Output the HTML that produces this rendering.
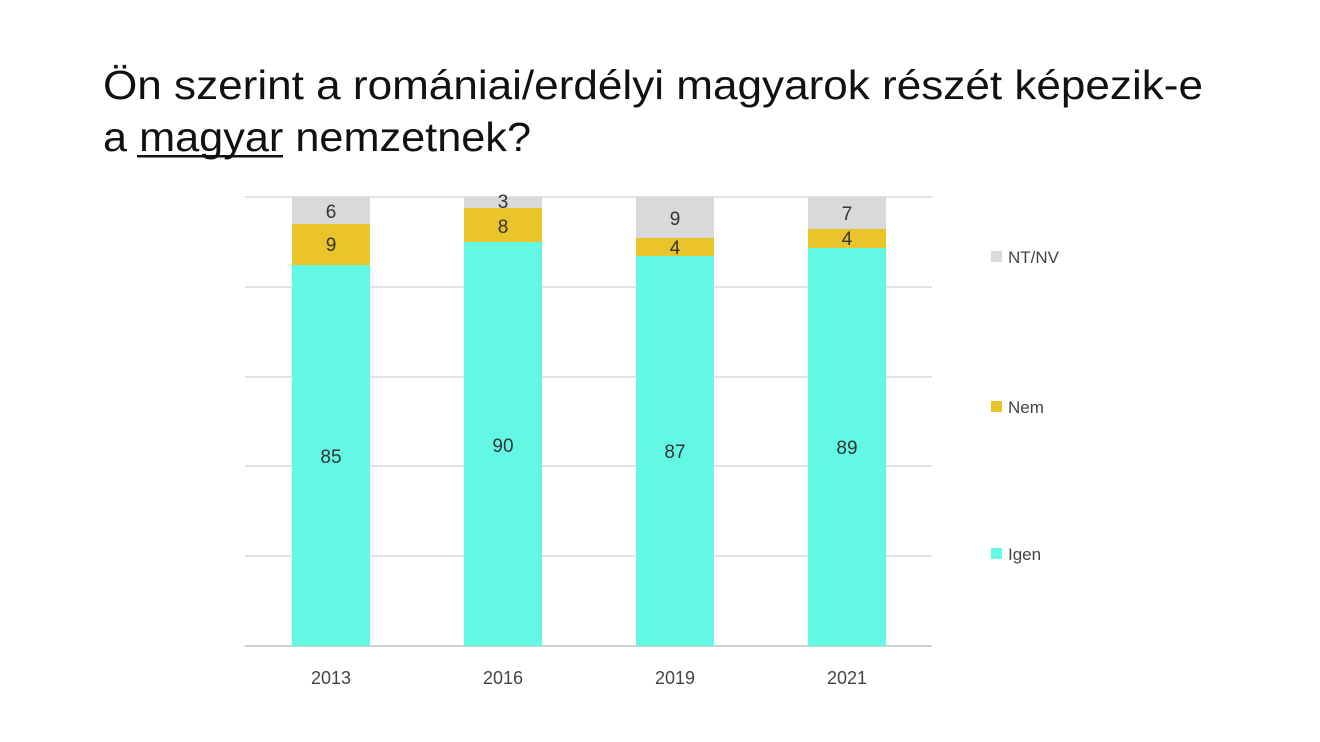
<!DOCTYPE html>
<html><head><meta charset="utf-8"><style>html,body{margin:0;padding:0;background:#fff}svg{display:block}</style></head>
<body>
<svg width="1320" height="742" xmlns="http://www.w3.org/2000/svg" font-family="Liberation Sans, DejaVu Sans, sans-serif">
<rect width="1320" height="742" fill="#fff"/>
<text x="103" y="99" font-size="41" fill="#111" textLength="1100" lengthAdjust="spacingAndGlyphs">Ön szerint a romániai/erdélyi magyarok részét képezik-e</text>
<text x="103" y="151" font-size="41" fill="#111" textLength="428" lengthAdjust="spacingAndGlyphs">a magyar nemzetnek?</text>
<rect x="137" y="155" width="146" height="2.5" fill="#111"/>
<g stroke="#d9d9d9" stroke-width="1.5">
<line x1="245" y1="197" x2="932" y2="197"/>
<line x1="245" y1="287" x2="932" y2="287"/>
<line x1="245" y1="377" x2="932" y2="377"/>
<line x1="245" y1="466" x2="932" y2="466"/>
<line x1="245" y1="556" x2="932" y2="556"/>
</g>
<line x1="245" y1="646" x2="932" y2="646" stroke="#bfbfbf" stroke-width="1.5"/>
<g>
<rect x="292" y="197" width="78" height="27" fill="#d9d9d9"/>
<rect x="292" y="224" width="78" height="41" fill="#e8c42a"/>
<rect x="292" y="265" width="78" height="381" fill="#63f8e3"/>
<rect x="464" y="197" width="78" height="11" fill="#d9d9d9"/>
<rect x="464" y="208" width="78" height="34" fill="#e8c42a"/>
<rect x="464" y="242" width="78" height="404" fill="#63f8e3"/>
<rect x="636" y="197" width="78" height="41" fill="#d9d9d9"/>
<rect x="636" y="238" width="78" height="18" fill="#e8c42a"/>
<rect x="636" y="256" width="78" height="390" fill="#63f8e3"/>
<rect x="808" y="197" width="78" height="32" fill="#d9d9d9"/>
<rect x="808" y="229" width="78" height="19" fill="#e8c42a"/>
<rect x="808" y="248" width="78" height="398" fill="#63f8e3"/>
</g>
<g font-size="19" fill="#333" text-anchor="middle">
<text x="331" y="218">6</text><text x="331" y="251">9</text><text x="331" y="463">85</text>
<text x="503" y="208">3</text><text x="503" y="233">8</text><text x="503" y="452">90</text>
<text x="675" y="225">9</text><text x="675" y="254">4</text><text x="675" y="458">87</text>
<text x="847" y="220">7</text><text x="847" y="245">4</text><text x="847" y="454">89</text>
</g>
<g font-size="18" fill="#444" text-anchor="middle">
<text x="331" y="684">2013</text><text x="503" y="684">2016</text><text x="675" y="684">2019</text><text x="847" y="684">2021</text>
</g>
<rect x="991" y="251" width="11" height="11" fill="#d9d9d9"/>
<text x="1008" y="263" font-size="17" fill="#444">NT/NV</text>
<rect x="991" y="401" width="11" height="11" fill="#e8c42a"/>
<text x="1008" y="413" font-size="17" fill="#444">Nem</text>
<rect x="991" y="548" width="11" height="11" fill="#63f8e3"/>
<text x="1008" y="560" font-size="17" fill="#444">Igen</text>
</svg>
</body></html>
